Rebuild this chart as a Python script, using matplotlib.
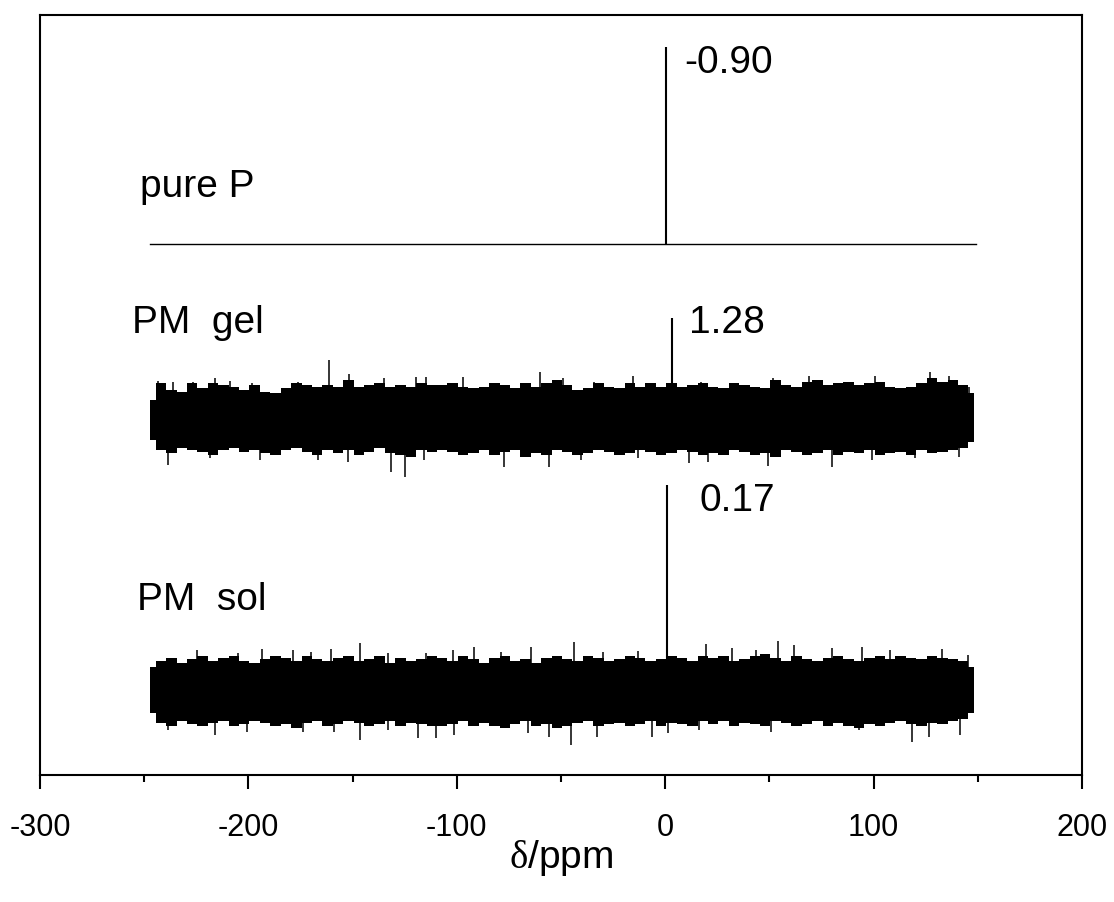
import numpy as np
import matplotlib
matplotlib.use('Agg')
import matplotlib.pyplot as plt

plt.rcParams['font.family'] = ['Liberation Sans', 'DejaVu Sans']
plt.rcParams['mathtext.fontset'] = 'custom'
plt.rcParams['mathtext.rm'] = 'Liberation Serif'
plt.rcParams['axes.unicode_minus'] = False

############### DATA #################
# chemical shift grid of the noisy envelopes (ppm, 5 ppm step)
ppm_grid = np.arange(-247, 150, 5)

# pure P : flat baseline with one sharp line
pure_ends = [-247, 149]
pure_base = 531
pure_peak_ppm, pure_peak_top = 0.6, 728

# PM gel : noise envelope (offsets above / below baseline), spikes, small line
gel_base = 355
gel_env_up = [20, 37, 30, 28, 37, 32, 37, 35, 33, 30, 35, 28, 27, 32, 37, 35, 33, 35, 33, 40,
              33, 35, 37, 33, 35, 33, 37, 35,
              35, 37, 33, 32, 33, 37, 35, 32, 37, 33, 37, 40, 35, 30, 32, 37, 33, 32, 37, 33,
              37, 33, 37, 33, 35, 37,
              33, 32, 37, 35, 33, 32, 40, 35, 33, 38, 40, 35, 37, 38, 35, 37, 38, 33, 32, 33,
              37, 42, 38, 40, 35, 27]
gel_env_dn = [20, 30, 33, 28, 30, 32, 35, 30, 28, 32, 30, 33, 35, 30, 28, 32, 35, 30, 33, 30,
              35, 32, 28, 33, 35, 37, 30, 32,
              30, 32, 35, 33, 30, 35, 32, 30, 37, 33, 35, 30, 32, 35, 33, 30, 32, 35, 33, 30,
              32, 35, 33, 30, 32, 35,
              33, 35, 30, 32, 35, 33, 37, 30, 32, 35, 33, 30, 35, 32, 33, 30, 35, 33, 32, 35,
              30, 33, 32, 30, 28, 22]
gel_peak_ppm, gel_peak_top = 3.2, 457
gel_up_ppm = [-243.3, -236.1, -226.4, -215.9, -208.7, -198.1, -176.4, -161.5, -151.9,
              -135.1, -119.7, -114.9, -97.1, -60.1, -49.0, -34.1, -15.4, 17.3, 51.9,
              69.2, 100.5, 126.9, 136.1, 145.7]
gel_up_val = [394, 393, 393, 397, 394, 392, 393, 415, 401, 397, 398, 398, 398, 403,
              397, 393, 399, 393, 397, 399, 399, 403, 399, 388]
gel_dn_ppm = [-238.5, -218.3, -194.2, -166.8, -152.4, -131.7, -125.0, -115.9, -77.4,
              -55.8, -40.4, -13.0, 11.5, 20.7, 49.5, 79.8, 99.0, 119.7, 140.9]
gel_dn_val = [310, 317, 315, 315, 313, 303, 298, 315, 308, 308, 315, 317, 312, 313,
              309, 308, 315, 317, 318]

# PM sol : noise envelope, spikes, strong line
sol_base = 84
sol_env_up = [24, 30, 33, 28, 32, 35, 30, 33, 35, 30, 28, 32, 35, 33, 30, 35, 32, 30, 33, 35,
              30, 32, 35, 28, 33, 30, 32, 35,
              33, 30, 35, 32, 28, 33, 35, 30, 32, 28, 33, 35, 32, 30, 35, 33, 30, 32, 35, 33,
              30, 32, 35, 33, 30, 35,
              33, 35, 30, 32, 35, 37, 33, 30, 35, 32, 30, 33, 35, 32, 30, 33, 35, 32, 35, 33,
              32, 35, 33, 32, 30, 24]
sol_env_dn = [22, 32, 35, 30, 33, 35, 32, 30, 35, 33, 30, 32, 35, 33, 37, 32, 30, 35, 33, 30,
              32, 35, 33, 30, 35, 32, 33, 35,
              35, 33, 30, 35, 32, 35, 37, 33, 30, 35, 33, 37, 35, 32, 30, 35, 33, 32, 35, 33,
              30, 35, 32, 33, 35, 30,
              33, 30, 35, 32, 33, 35, 30, 32, 35, 33, 30, 35, 32, 35, 37, 33, 35, 32, 30, 33,
              35, 32, 33, 30, 28, 22]
sol_peak_ppm, sol_peak_top = 0.8, 290
sol_up_ppm = [-224.5, -204.8, -193.3, -178.4, -170.2, -160.6, -146.6, -133.2,
              -114.9, -101.9, -91.8, -78.8, -64.4, -43.8, -29.8, -13.0, 19.7, 32.2,
              43.8, 54.3, 62.0, 79.8, 94.2, 107.7, 132.7, 145.2]
sol_up_val = [125, 122, 126, 125, 123, 126, 132, 122, 122, 125, 128, 123, 128,
              133, 123, 124, 131, 127, 125, 134, 130, 127, 128, 125, 126, 120]
sol_dn_ppm = [-238.5, -215.9, -200.5, -173.6, -159.1, -146.6, -133.2, -118.8, -110.1,
              -101.4, -65.9, -55.8, -45.2, -32.7, -6.3, 1.4, 16.3, 51.0, 92.8, 118.3,
              126.4, 141.3]
sol_dn_val = [45, 40, 43, 43, 43, 35, 45, 37, 37, 40, 42, 38, 30, 38, 38, 42, 45, 43,
              45, 33, 38, 40]

labels = ['pure P', 'PM  gel', 'PM  sol']
label_pos = [(-252, 588), (-256, 452), (-253.5, 175)]
shifts = ['-0.90', '1.28', '0.17']
shift_pos = [(9.1, 712), (11.5, 452), (16.3, 274)]

############### PLOT #################
fig = plt.figure(figsize=(11.14, 9.02), dpi=100)
ax = fig.add_axes([40/1114, 1-775/902, 1042/1114, 760/902])

# pure P
ax.plot(pure_ends, [pure_base, pure_base], color='k', lw=1.0)
ax.vlines(pure_peak_ppm, pure_base, pure_peak_top, color='k', lw=1.5)

# noisy traces
traces = [
    (gel_base, gel_env_up, gel_env_dn, gel_up_ppm, gel_up_val, gel_dn_ppm, gel_dn_val,
     gel_peak_ppm, gel_peak_top),
    (sol_base, sol_env_up, sol_env_dn, sol_up_ppm, sol_up_val, sol_dn_ppm, sol_dn_val,
     sol_peak_ppm, sol_peak_top),
]
for base, env_up, env_dn, up_p, up_v, dn_p, dn_v, pk_p, pk_t in traces:
    hi = base + np.array(env_up)
    lo = base - np.array(env_dn)
    ax.fill_between(ppm_grid, lo, hi, step='mid', color='k', lw=0)
    ax.vlines(up_p, base, up_v, color='k', lw=1.1)
    ax.vlines(dn_p, dn_v, base, color='k', lw=1.1)
    ax.vlines(pk_p, base, pk_t, color='k', lw=1.5)

for t, (x, y) in zip(labels, label_pos):
    ax.text(x, y, t, fontsize=28, ha='left', va='center')
for t, (x, y) in zip(shifts, shift_pos):
    ax.text(x, y, t, fontsize=28, ha='left', va='center')

ax.set_xlim(-300, 200)
ax.set_ylim(0, 760)
ax.set_xticks([-300, -200, -100, 0, 100, 200])
ax.set_xticks([-250, -150, -50, 50, 150], minor=True)
ax.set_yticks([])
ax.tick_params(axis='x', which='major', direction='out', length=10, width=1.5,
               labelsize=22, pad=17)
ax.tick_params(axis='x', which='minor', direction='out', length=5, width=1.5)
for s in ax.spines.values():
    s.set_linewidth(1.5)
ax.set_xlabel(r'$\mathrm{\delta}$/ppm', fontsize=28, labelpad=-3)

plt.savefig('out.png', dpi=100)
